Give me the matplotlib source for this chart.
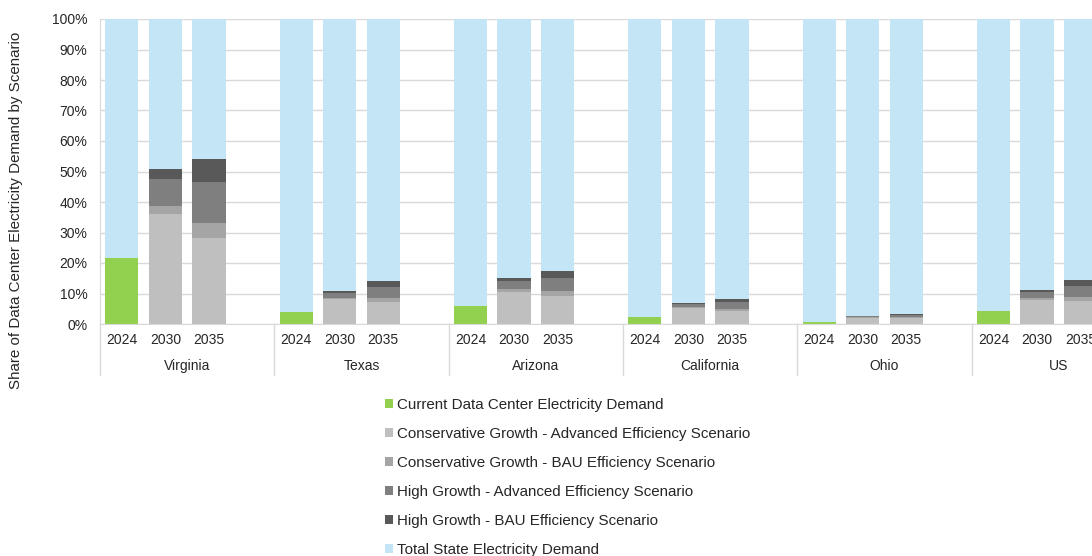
import matplotlib.pyplot as plt
from matplotlib.patches import Patch
import matplotlib.transforms as mtransforms
import numpy as np

plt.rcParams['font.family'] = ['Liberation Sans', 'DejaVu Sans']

regions = ['Virginia', 'Texas', 'Arizona', 'California', 'Ohio', 'US']
years = ['2024', '2030', '2035']

# current data center share of state demand (%)
current_2024 = [21.5, 4.0, 6.0, 2.3, 0.7, 4.3]

# scenario shares (%), each scenario includes the ones below it
cons_adv_2030 = [36.1, 8.1, 10.5, 5.1, 2.0, 7.9]
cons_bau_2030 = [38.7, 8.6, 11.5, 5.6, 2.2, 8.5]
high_adv_2030 = [47.6, 10.3, 14.1, 6.6, 2.5, 10.5]
high_bau_2030 = [50.9, 10.8, 15.0, 6.9, 2.7, 11.1]

cons_adv_2035 = [28.3, 7.3, 9.2, 4.4, 1.9, 7.5]
cons_bau_2035 = [33.1, 8.5, 10.9, 5.0, 2.2, 8.9]
high_adv_2035 = [46.6, 12.1, 15.1, 7.2, 3.0, 12.5]
high_bau_2035 = [54.1, 14.2, 17.5, 8.2, 3.3, 14.4]

labels = ['Current Data Center Electricity Demand',
          'Conservative Growth - Advanced Efficiency Scenario',
          'Conservative Growth - BAU Efficiency Scenario',
          'High Growth - Advanced Efficiency Scenario',
          'High Growth - BAU Efficiency Scenario',
          'Total State Electricity Demand']
colors = ['#92D050', '#BFBFBF', '#A5A5A5', '#7F7F7F', '#595959', '#C3E5F5']

text_c = '#262626'
grid_c = '#D9D9D9'

fig = plt.figure(figsize=(10.92, 5.56), dpi=100)
ax = fig.add_axes([100 / 1092, 1 - 324 / 556, 1046 / 1092, 305 / 556])

w = 0.76
for g in range(len(regions)):
    x0 = 4 * g + 0.5
    # 2024: current demand + remainder
    ax.bar(x0, current_2024[g], w, color=colors[0], zorder=2)
    ax.bar(x0, 100 - current_2024[g], w, bottom=current_2024[g], color=colors[5], zorder=2)
    for j, tops in enumerate([
            [cons_adv_2030[g], cons_bau_2030[g], high_adv_2030[g], high_bau_2030[g]],
            [cons_adv_2035[g], cons_bau_2035[g], high_adv_2035[g], high_bau_2035[g]]]):
        x = x0 + j + 1
        edges = np.concatenate([[0], tops, [100]])
        heights = np.diff(edges)
        for k in range(len(heights)):
            ax.bar(x, heights[k], w, bottom=edges[k], color=colors[k + 1], zorder=2)

ax.set_xlim(0, 24)
ax.set_ylim(0, 100)
ax.set_yticks(np.arange(0, 101, 10))
ax.set_yticklabels([f'{v}%' for v in range(0, 101, 10)])
ax.tick_params(axis='y', length=0, pad=9, labelsize=10, labelcolor=text_c)
ax.set_xticks([])
ax.grid(axis='y', color=grid_c, lw=1, zorder=0)
ax.set_axisbelow(True)
for s in ['top', 'right']:
    ax.spines[s].set_visible(False)
ax.spines['left'].set_color(grid_c)
ax.spines['bottom'].set_color(grid_c)

# two-level category axis
trans = mtransforms.blended_transform_factory(ax.transData, ax.transAxes)
for g, name in enumerate(regions):
    for j, yr in enumerate(years):
        ax.text(4 * g + j + 0.5, -0.052, yr, transform=trans, ha='center', va='center',
                fontsize=10, color=text_c)
    ax.text(4 * g + 2, -0.138, name, transform=trans, ha='center', va='center',
            fontsize=10, color=text_c)
for g in range(len(regions) + 1):
    ax.plot([4 * g, 4 * g], [0, -0.167], transform=trans, color=grid_c, lw=1, clip_on=False)

fig.text(16 / 1092, 1 - 210 / 556, 'Share of Data Center Electricity Demand by Scenario',
         rotation=90, ha='center', va='center', fontsize=10.9, color=text_c)

handles = [Patch(facecolor=c) for c in colors]
fig.legend(handles, labels, loc='upper left', bbox_to_anchor=(385 / 1092, 1 - 398 / 556),
           frameon=False, fontsize=10.9, labelspacing=0.99, handlelength=0.5,
           handleheight=0.5, handletextpad=0.3, borderpad=0, borderaxespad=0,
           labelcolor=text_c)

fig.savefig('out.png', dpi=100)
